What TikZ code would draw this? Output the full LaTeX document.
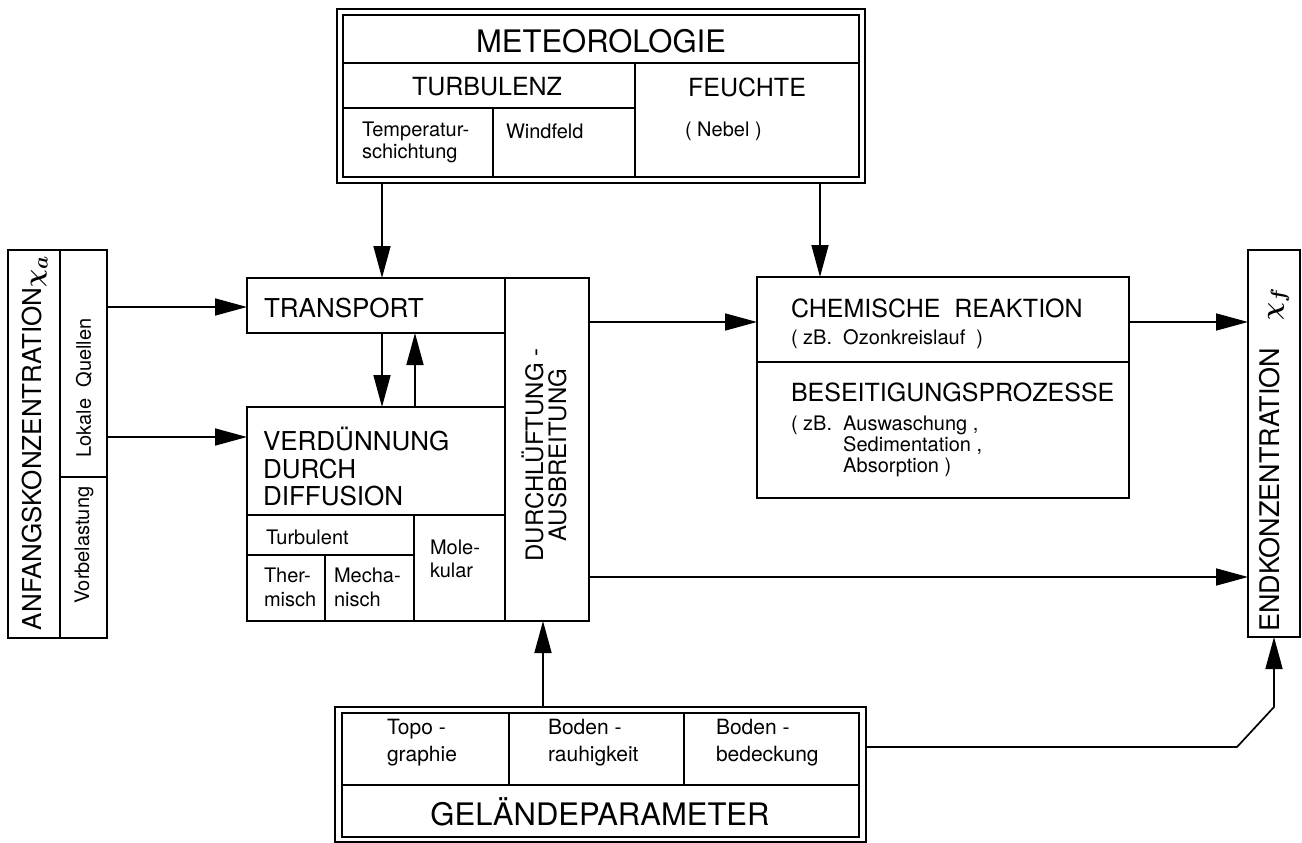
\documentclass[tikz,border=0pt]{standalone}
\usepackage{amsmath}
\usepackage{fontspec}
\setmainfont{TeX Gyre Heros}
\usetikzlibrary{arrows.meta}
\tikzset{
  cell/.style={draw, line width=1.7pt, inner sep=0pt, outer sep=0pt},
  arr/.style={line width=1.7pt, -{Triangle[length=32pt,width=17pt]}},
  lbl/.style={inner sep=0pt, outer sep=0pt, align=left},
  clbl/.style={inner sep=0pt, outer sep=0pt, align=center},
}
\newcommand{\cellbox}[5]{\node[cell, minimum width={(#4)-(#2)}, minimum height={(#5)-(#3)}] (#1) at ({((#2)+(#4))/2},{((#3)+(#5))/2}) {};}
\newcommand{\fz}[2]{\fontsize{#1}{#2}\selectfont}
\newcommand{\bigchi}[1]{{\fontsize{32}{34}\selectfont$\boldsymbol{\chi}_{\boldsymbol{#1}}$}}
\begin{document}
\begin{tikzpicture}[x=1pt,y=-1pt]
\path[fill=white,use as bounding box] (0,0) rectangle (1302,843);

% ---------- METEOROLOGIE ----------
\cellbox{metO}{337}{9}{865}{183}
\cellbox{metI}{343}{15}{859}{177}
\cellbox{metT}{343}{15}{859}{63}
\cellbox{turb}{343}{63}{635}{108}
\cellbox{feu}{635}{63}{859}{177}
\cellbox{temp}{343}{108}{493}{177}
\cellbox{wind}{493}{108}{635}{177}
\node[clbl, font=\fz{31}{33}] (tMet) at (601,41) {METEOROLOGIE};
\node[clbl, font=\fz{25}{27}] (tTurb) at (487,87) {TURBULENZ};
\node[clbl, font=\fz{25}{27}] (tFeu) at (747,87) {FEUCHTE};
\node[lbl, anchor=west, font=\fz{20}{22}] (tTemp) at (362,142) {Temperatur-\\schichtung};
\node[lbl, anchor=west, font=\fz{20}{22}] (tWind) at (506,131) {Windfeld};
\node[lbl, anchor=west, font=\fz{20}{22}] (tNeb) at (685,131) {( Nebel )};

% ---------- ANFANGSKONZENTRATION ----------
\cellbox{anf}{8}{250}{107}{638}
\cellbox{anfL}{8}{250}{60}{638}
\cellbox{lok}{60}{250}{107}{477}
\cellbox{vor}{60}{477}{107}{638}
\node[clbl, rotate=90, font=\fz{26}{28}] (tAnf) at (35,443) {ANFANGSKONZENTRATION\bigchi{a}};
\node[clbl, rotate=90, font=\fz{20}{22}] (tLok) at (84,388) {Lokale\ \ Quellen};
\node[clbl, rotate=90, font=\fz{20}{22}] (tVor) at (84,545) {Vorbelastung};

% ---------- CENTER ----------
\cellbox{transport}{247}{278}{505}{333}
\cellbox{durch}{505}{278}{589}{621}
\cellbox{verd}{247}{407}{505}{621}
\cellbox{turbl}{247}{515}{414}{555}
\cellbox{therm}{247}{555}{325}{621}
\cellbox{mech}{325}{555}{414}{621}
\cellbox{molek}{414}{515}{505}{621}
\node[lbl, anchor=west, font=\fz{26}{28}] (tTrans) at (264,308) {TRANSPORT};
\node[lbl, anchor=west, font=\fz{26}{27.5}] (tVerd) at (263,467) {VERDÜNNUNG\\DURCH\\DIFFUSION};
\node[lbl, anchor=west, font=\fz{20}{22}] (tTurbl) at (266,537) {Turbulent};
\node[lbl, anchor=west, font=\fz{20}{24}] (tTherm) at (264,587) {Ther-\\misch};
\node[lbl, anchor=west, font=\fz{20}{24}] (tMech) at (334,587) {Mecha-\\nisch};
\node[lbl, anchor=west, font=\fz{20}{23}] (tMol) at (430,559) {Mole-\\kular};
\node[clbl, rotate=90, font=\fz{24}{23}] (tDurch) at (544,455) {DURCHLÜFTUNG -\\AUSBREITUNG};

% ---------- CHEMIE ----------
\cellbox{chem}{757}{277}{1129}{498}
\cellbox{chemT}{757}{277}{1129}{362}
\node[lbl, anchor=west, font=\fz{25}{27}] (tChem) at (791,308) {CHEMISCHE\ \ REAKTION};
\node[lbl, anchor=west, font=\fz{20}{22}] (tOzon) at (791,339) {( zB.\ \ Ozonkreislauf\ \ )};
\node[lbl, anchor=west, font=\fz{25}{27}] (tBes) at (791,392) {BESEITIGUNGSPROZESSE};
\node[lbl, anchor=west, font=\fz{20}{21}] (tAusw) at (791,446) {( zB.\ \ Auswaschung ,\\\phantom{( zB.\ \ }Sedimentation ,\\\phantom{( zB.\ \ }Absorption )};

% ---------- ENDKONZENTRATION ----------
\cellbox{endk}{1248}{250}{1300}{637}
\node[clbl, rotate=90, font=\fz{27}{29}] (tEnd) at (1274,460) {ENDKONZENTRATION\quad\bigchi{f}};

% ---------- GELAENDEPARAMETER ----------
\cellbox{botO}{335}{707}{866}{842}
\cellbox{botI}{342}{713}{859}{837}
\cellbox{topo}{342}{713}{509}{785}
\cellbox{rauh}{509}{713}{684}{785}
\cellbox{bed}{684}{713}{859}{785}
\node[lbl, anchor=west, font=\fz{21}{27}] (tTopo) at (387,743) {Topo -\\graphie};
\node[lbl, anchor=west, font=\fz{21}{27}] (tRauh) at (548,743) {Boden -\\rauhigkeit};
\node[lbl, anchor=west, font=\fz{21}{27}] (tBed) at (716,743) {Boden -\\bedeckung};
\node[clbl, font=\fz{31}{33}] (tGel) at (600,812) {GELÄNDEPARAMETER};

% ---------- CONNECTORS ----------
\coordinate (xA) at (382,0);
\coordinate (xB) at (820,0);
\coordinate (xC) at (415,0);
\coordinate (xD) at (543,0);
\coordinate (yA) at (0,307);
\coordinate (yB) at (0,437);
\coordinate (yC) at (0,322);
\coordinate (yD) at (0,577);
\coordinate (k1) at (1237,747);
\coordinate (k2) at (1274,707);

\draw[arr] (xA |- metO.south) -- (xA |- transport.north);
\draw[arr] (xB |- metO.south) -- (xB |- chem.north);
\draw[arr] (anf.east |- yA) -- (transport.west |- yA);
\draw[arr] (anf.east |- yB) -- (verd.west |- yB);
\draw[arr] (xA |- transport.south) -- (xA |- verd.north);
\draw[arr] (xC |- verd.north) -- (xC |- transport.south);
\draw[arr] (durch.east |- yC) -- (chem.west |- yC);
\draw[arr] (chem.east |- yC) -- (endk.west |- yC);
\draw[arr] (durch.east |- yD) -- (endk.west |- yD);
\draw[arr] (xD |- botO.north) -- (xD |- durch.south);
\draw[arr] (botO.east |- k1) -- (k1) -- (k2) -- (endk.south);
\end{tikzpicture}
\end{document}
